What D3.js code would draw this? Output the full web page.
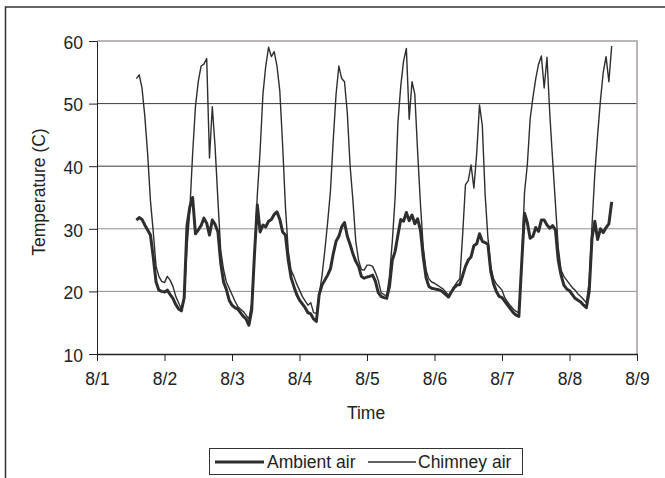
<!DOCTYPE html>
<html>
<head>
<meta charset="utf-8">
<script src="https://d3js.org/d3.v7.min.js"></script>
<style>
  body { margin: 0; background: #fff; }
  .chart text { font-family: "Liberation Sans", Arial, sans-serif; font-size: 17.5px; fill: #222; }
  .axis path, .axis line { stroke: #222; }
</style>
</head>
<body>
<svg class="chart" width="665" height="478"></svg>
<script>
// hourly readings, starting 8/1 14:00
var startTime = new Date(2005, 7, 1, 14);
var endDays = [new Date(2005, 7, 1), new Date(2005, 7, 9)];
var yTicks = [10, 20, 30, 40, 50, 60];
var seriesNames = ["Ambient air", "Chimney air"];

var chimneyAir = [
  54, 54.6, 52.5, 48, 42, 34.5, 29.5, 24, 22.4, 21.6,
  21.4, 22.4, 21.8, 20.8, 19.2, 18.2, 17.2, 19, 27, 33,
  42, 49.5, 53.5, 56, 56.3, 57.2, 41.3, 49.5, 43, 34.5,
  26.5, 23.5, 21.5, 20.5, 19.5, 18.5, 17.6, 17.2, 16.8, 16.2,
  15.6, 18, 26, 35.4, 42.5, 51.5, 56, 59, 57.5, 58.3,
  56, 52, 43.4, 33.5, 26.5, 23.4, 22.4, 21.2, 20.2, 19.2,
  18.5, 17.8, 18.2, 16.6, 16.5, 19.5, 22.5, 26.5, 31, 36,
  44.2, 51.5, 56, 54, 53.5, 48.5, 40, 34.5, 28, 25,
  23.5, 23.4, 24.2, 24.2, 24, 23, 21.8, 19.8, 19.5, 19.2,
  22.5, 28, 35, 47, 52.8, 56.8, 58.8, 47.5, 53.5, 51.5,
  42.3, 34, 27, 23.4, 22, 21.5, 21.3, 21, 20.7, 20.4,
  19.9, 19.4, 20, 20.8, 21.5, 22, 29, 37, 37.7, 40.2,
  36.5, 42, 49.8, 46.5, 35.5, 28.5, 24, 22, 21.2, 20.7,
  20.2, 19, 18.3, 17.7, 17.2, 16.8, 16.6, 24.5, 35.8, 40.2,
  47.5, 51, 54, 56.3, 57.6, 52.5, 57.4, 48.3, 41, 34,
  27, 23.4, 22.4, 21.8, 21.2, 20.6, 20.2, 19.6, 19.2, 18.7,
  18.2, 21.5, 30.5, 38.8, 45, 50.5, 55, 57.5, 53.5, 59.2
];

var ambientAir = [
  31.4, 31.8, 31.5, 30.6, 29.8, 29, 25.5, 21.5, 20.2, 20,
  19.9, 20.2, 19.5, 18.9, 17.9, 17.2, 16.9, 19, 30.5, 33.5,
  35, 29.2, 29.8, 30.5, 31.7, 30.9, 29, 31.4, 30.7, 29.5,
  24.5, 21.5, 20.3, 18.6, 17.8, 17.4, 17.2, 16.6, 16, 15.6,
  14.6, 17, 26, 33.8, 29.5, 30.6, 30.3, 31.2, 31.5, 32.3,
  32.7, 31.5, 29.5, 29, 25, 22.2, 20.8, 19.5, 18.6, 18,
  17.4, 16.6, 16.4, 15.6, 15.2, 19.5, 21, 21.8, 22.6, 23.6,
  26, 28, 28.8, 30.3, 31, 28.8, 27.5, 26, 24.8, 24,
  22.4, 22.1, 22.3, 22.4, 22.6, 21.6, 19.8, 19.2, 19, 18.9,
  20.8, 25, 26.4, 29, 31.5, 31.2, 32.6, 31.3, 32.2, 30.8,
  31.6, 29.8, 25.5, 22.2, 20.8, 20.5, 20.4, 20.3, 20.2, 19.9,
  19.5, 19.1, 19.9, 20.6, 21, 21.1, 22.5, 24, 25, 25.5,
  27.3, 27.6, 29.2, 28, 27.8, 27.5, 23.2, 21.2, 20, 19.2,
  19, 18.4, 17.8, 17.2, 16.6, 16.2, 16, 24.5, 32.5, 31,
  28.5, 28.8, 30.2, 29.6, 31.4, 31.4, 30.6, 30.1, 30.5, 29.8,
  25, 22.6, 21, 20.4, 20.1, 19.5, 18.9, 18.6, 18.3, 17.8,
  17.4, 20, 28.5, 31.2, 28.3, 30, 29.4, 30.2, 30.8, 34.3
];

var plotLeft = 97, plotTop = 41, plotRight = 637, plotBottom = 354;

var svg = d3.select(".chart");

// outer frame (runs off the right and bottom edges)
svg.append("path")
    .attr("d", "M5.5,480 V7 H670")
    .attr("fill", "none")
    .attr("stroke", "#333")
    .attr("stroke-width", 1.5);

var x = d3.scaleTime()
    .domain(endDays)
    .range([plotLeft, plotRight]);

var y = d3.scaleLinear()
    .domain([10, 60])
    .range([plotBottom, plotTop]);

// grid lines
svg.append("g").selectAll("line")
    .data(yTicks.filter(function(d) { return d > 10 && d < 60; }))
    .enter().append("line")
    .attr("x1", plotLeft).attr("x2", plotRight)
    .attr("y1", function(d) { return y(d); })
    .attr("y2", function(d) { return y(d); })
    .attr("stroke", function(d) { return d >= 40 ? "#3c3c3c" : "#8f8f8f"; })
    .attr("stroke-width", 1);

// top and right frame of plot area
svg.append("path")
    .attr("d", "M" + plotLeft + "," + plotTop + " H" + plotRight + " V" + plotBottom)
    .attr("fill", "none")
    .attr("stroke", "#a59d9d")
    .attr("stroke-width", 1.5);

var line = d3.line()
    .x(function(d, i) { return x(d3.timeHour.offset(startTime, i)); })
    .y(function(d) { return y(d); });

svg.append("path")
    .datum(chimneyAir)
    .attr("d", line)
    .attr("fill", "none")
    .attr("stroke", "#2e2e2e")
    .attr("stroke-width", 1.4)
    .attr("stroke-linejoin", "round");

svg.append("path")
    .datum(ambientAir)
    .attr("d", line)
    .attr("fill", "none")
    .attr("stroke", "#2e2e2e")
    .attr("stroke-width", 3)
    .attr("stroke-linejoin", "round");

// axes
svg.append("g")
    .attr("class", "axis")
    .attr("transform", "translate(" + plotLeft + ",0)")
    .call(d3.axisLeft(y).tickValues(yTicks).tickSize(8).tickSizeOuter(0).tickPadding(6))
    .call(function(g) { g.selectAll("text").attr("dy", "0.42em"); });

svg.append("g")
    .attr("class", "axis")
    .attr("transform", "translate(0," + plotBottom + ")")
    .call(d3.axisBottom(x).ticks(d3.timeDay.every(1)).tickFormat(d3.timeFormat("%-m/%-d"))
        .tickSize(7).tickSizeOuter(0).tickPadding(12))
    .call(function(g) { g.select(".domain").attr("stroke-width", 1.5); });

svg.selectAll(".axis")
    .attr("font-family", null).attr("font-size", null);

// axis titles
svg.append("text")
    .attr("transform", "translate(45,192) rotate(-90)")
    .attr("text-anchor", "middle")
    .text("Temperature (C)");

svg.append("text")
    .attr("x", 366).attr("y", 419)
    .attr("text-anchor", "middle")
    .text("Time");

// legend
var legend = svg.append("g");

legend.append("rect")
    .attr("x", 209.5).attr("y", 448.5)
    .attr("width", 313).attr("height", 26)
    .attr("fill", "#fff")
    .attr("stroke", "#333");

legend.selectAll("line")
    .data(seriesNames)
    .enter().append("line")
    .attr("x1", function(d, i) { return i ? 368 : 215; })
    .attr("x2", function(d, i) { return i ? 416 : 264; })
    .attr("y1", 462).attr("y2", 462)
    .attr("stroke", "#2e2e2e")
    .attr("stroke-width", function(d, i) { return i ? 1.4 : 3; });

legend.selectAll("text")
    .data(seriesNames)
    .enter().append("text")
    .attr("x", function(d, i) { return i ? 418 : 267; })
    .attr("y", 468)
    .text(function(d) { return d; });
</script>
</body>
</html>
